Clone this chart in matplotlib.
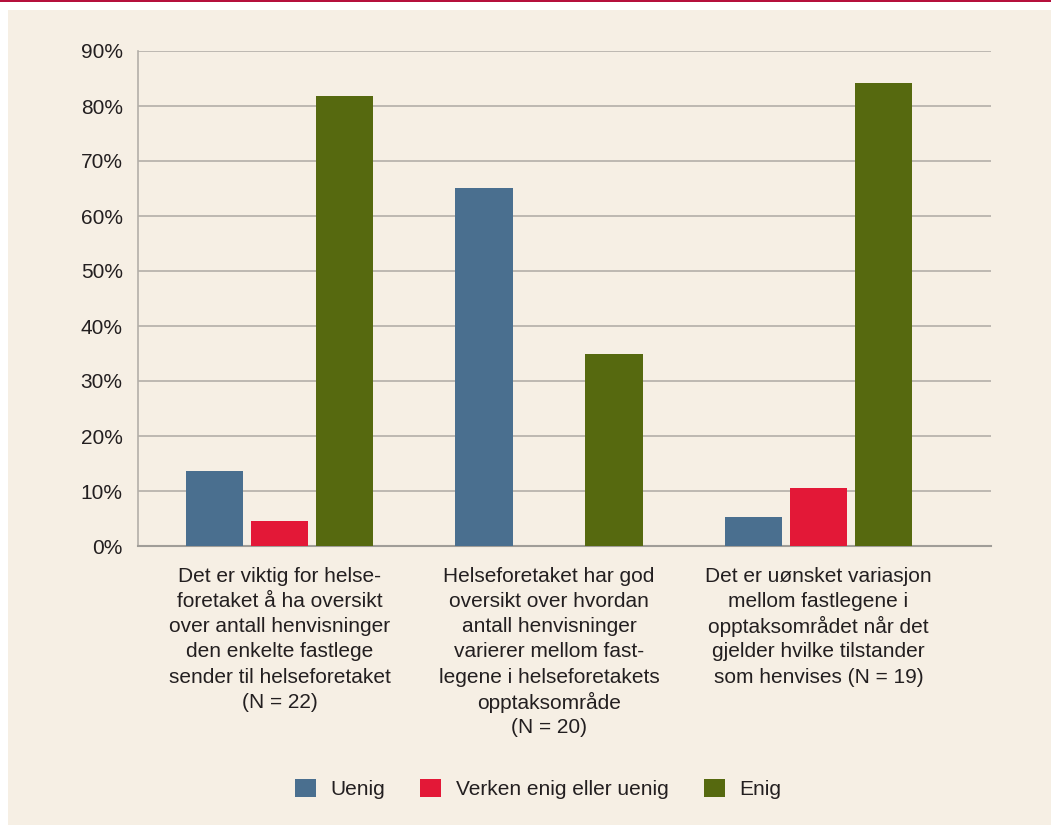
import matplotlib.pyplot as plt
import matplotlib.patches as mpatches
import numpy as np

plt.rcParams["font.family"] = ["Liberation Sans", "DejaVu Sans"]

categories = [
    "Det er viktig for helse-\nforetaket å ha oversikt\nover antall henvisninger\nden enkelte fastlege\nsender til helseforetaket\n(N = 22)",
    "Helseforetaket har god\noversikt over hvordan\nantall henvisninger\nvarierer mellom fast-\nlegene i helseforetakets\nopptaksområde\n(N = 20)",
    "Det er uønsket variasjon\nmellom fastlegene i\nopptaksområdet når det\ngjelder hvilke tilstander\nsom henvises (N = 19)",
]
series = ["Uenig", "Verken enig eller uenig", "Enig"]
uenig = [13.6, 65.0, 5.3]
verken = [4.5, 0.0, 10.5]
enig = [81.8, 35.0, 84.2]
yticks = [0, 10, 20, 30, 40, 50, 60, 70, 80, 90]

colors = ["#4A6F8F", "#E31837", "#56690F"]
bg = "#F6EFE4"
grid_col = "#B3AFA8"
text_col = "#231F20"
fs = 15

fig = plt.figure(figsize=(10.51, 8.25), dpi=100)
fig.patch.set_facecolor("white")

# beige panel and red rule along the top
fig.patches.append(mpatches.Rectangle((8 / 1051, 0), 1, 1 - 10 / 825,
                                      transform=fig.transFigure, facecolor=bg,
                                      edgecolor="none", zorder=-5))
fig.patches.append(mpatches.Rectangle((0, 1 - 2 / 825), 1, 2 / 825,
                                      transform=fig.transFigure, facecolor="#B5103C",
                                      edgecolor="none", zorder=-5))

ax = fig.add_axes([138 / 1051, 1 - 546 / 825, 853 / 1051, 495 / 825])
ax.set_facecolor("none")

x = np.arange(len(categories))
w = 0.212
step = 0.241
for i, (vals, name) in enumerate(zip([uenig, verken, enig], series)):
    ax.bar(x + (i - 1) * step, vals, w, color=colors[i], label=name, zorder=3)

ax.set_xlim(-0.525, 2.64)
ax.set_ylim(0, 90)
ax.set_yticks(yticks)
ax.set_yticklabels([f"{t}%" for t in yticks], fontsize=fs, color=text_col)
ax.set_xticks(x)
ax.set_xticklabels([])
ax.tick_params(axis="both", length=0)
ax.tick_params(axis="y", pad=11)

# category labels, one line at a time so the spacing stays even
for xi, label in zip(x, categories):
    for k, line in enumerate(label.split("\n")):
        ax.annotate(line, xy=(xi, 0), xycoords=("data", "axes fraction"),
                    xytext=(0, -21.6 - 18.2 * k), textcoords="offset points",
                    ha="center", va="center", fontsize=fs, color=text_col)

ax.yaxis.grid(True, color=grid_col, linewidth=1.2, zorder=0)
ax.set_axisbelow(True)
for s in ["top", "right"]:
    ax.spines[s].set_visible(False)
ax.spines["left"].set_color(grid_col)
ax.spines["left"].set_linewidth(1.2)
ax.spines["bottom"].set_color("#A09D98")
ax.spines["bottom"].set_linewidth(1.5)

fig.legend(loc="center", bbox_to_anchor=(538 / 1051, 1 - 789 / 825), ncol=3,
           frameon=False, fontsize=fs, handlelength=1.0, handleheight=1.0,
           handletextpad=0.7, columnspacing=1.7, labelcolor=text_col)

fig.savefig("out.png", dpi=100, facecolor=fig.get_facecolor())
